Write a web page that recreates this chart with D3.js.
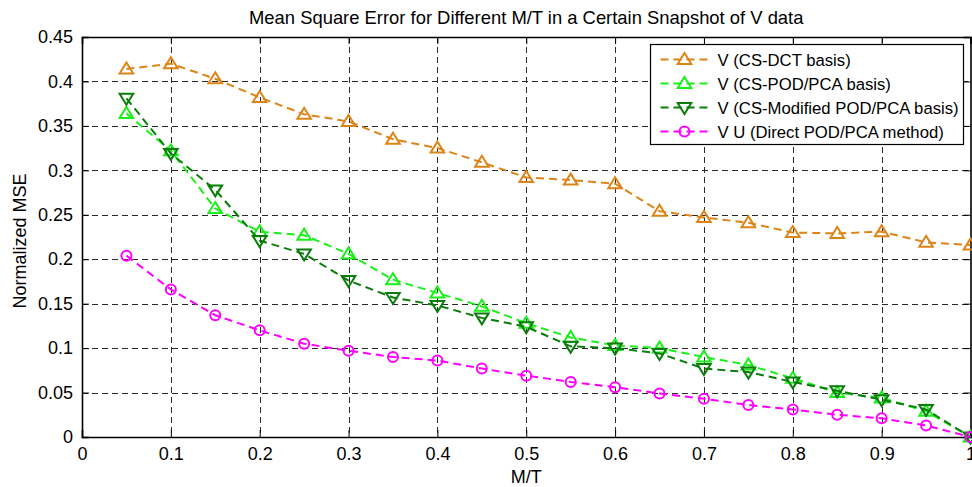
<!DOCTYPE html>
<html>
<head>
<meta charset="utf-8">
<script src="https://cdn.jsdelivr.net/npm/d3@7"></script>
<style>
  html, body { margin: 0; padding: 0; background: #fff; }
  svg { display: block; font-family: "Liberation Sans", Arial, Helvetica, sans-serif; }
</style>
</head>
<body>
<svg id="chart" width="972" height="487"></svg>
<script>
// M/T ratios on the x axis
const mt = [0.05, 0.10, 0.15, 0.20, 0.25, 0.30, 0.35, 0.40, 0.45, 0.50,
            0.55, 0.60, 0.65, 0.70, 0.75, 0.80, 0.85, 0.90, 0.95, 1.00];

// Normalized MSE per method
const csDct = [0.414, 0.420, 0.403, 0.382, 0.363, 0.355, 0.335, 0.325, 0.309, 0.292,
               0.289, 0.285, 0.254, 0.247, 0.241, 0.230, 0.229, 0.231, 0.219, 0.216];
const csPod = [0.364, 0.322, 0.257, 0.231, 0.227, 0.206, 0.177, 0.162, 0.147, 0.128,
               0.112, 0.103, 0.100, 0.090, 0.081, 0.066, 0.050, 0.044, 0.029, 0.000];
const csModPod = [0.381, 0.319, 0.278, 0.221, 0.206, 0.176, 0.157, 0.148, 0.134, 0.124,
                  0.102, 0.100, 0.094, 0.077, 0.073, 0.062, 0.052, 0.042, 0.031, 0.000];
const directPod = [0.204, 0.166, 0.137, 0.120, 0.105, 0.097, 0.090, 0.086, 0.077, 0.069,
                   0.062, 0.056, 0.049, 0.043, 0.036, 0.031, 0.025, 0.021, 0.013, 0.000];

const seriesNames = ["V (CS-DCT basis)", "V (CS-POD/PCA basis)",
                     "V (CS-Modified POD/PCA basis)", "V U (Direct POD/PCA method)"];
const seriesValues = [csDct, csPod, csModPod, directPod];
const seriesColors = ["#dd8417", "#19f019", "#0a7d0a", "#ff00ff"];
const seriesMarkers = ["up", "up", "down", "circle"];

const xTicks = [0, 0.1, 0.2, 0.3, 0.4, 0.5, 0.6, 0.7, 0.8, 0.9, 1];
const yTicks = [0, 0.05, 0.1, 0.15, 0.2, 0.25, 0.3, 0.35, 0.4, 0.45];

const titleText = "Mean Square Error for Different M/T in a Certain Snapshot of V data";
const xLabel = "M/T";
const yLabel = "Normalized MSE";

const svg = d3.select("#chart");
const L = 82, R = 970.5, T = 37, B = 437;

const x = d3.scaleLinear().domain([0, 1]).range([L, R]);
const y = d3.scaleLinear().domain([0, 0.45]).range([B, T]);

// Grid lines
const grid = svg.append("g").attr("stroke", "#2a2a2a").attr("stroke-width", 1)
  .attr("stroke-dasharray", "6,4");
grid.selectAll("line.gx").data(xTicks.filter(d => d > 0 && d < 1)).join("line")
  .attr("x1", d => Math.round(x(d)) + 0.5).attr("x2", d => Math.round(x(d)) + 0.5)
  .attr("y1", T).attr("y2", B);
grid.selectAll("line.gy").data(yTicks.filter(d => d > 0 && d < 0.45)).join("line")
  .attr("x1", L).attr("x2", R)
  .attr("y1", d => Math.round(y(d)) + 0.5).attr("y2", d => Math.round(y(d)) + 0.5);

// Axes with inward ticks
const fmt = d => d === 0 ? "0" : d === 1 ? "1" : String(+d.toFixed(2));
const xAxis = svg.append("g").attr("transform", `translate(0,${B})`)
  .call(d3.axisBottom(x).tickValues(xTicks).tickSize(-7).tickPadding(10).tickFormat(fmt));
const xAxisTop = svg.append("g").attr("transform", `translate(0,${T})`)
  .call(d3.axisTop(x).tickValues(xTicks).tickSize(-7).tickFormat(""));
const yAxis = svg.append("g").attr("transform", `translate(${L},0)`)
  .call(d3.axisLeft(y).tickValues(yTicks).tickSize(-7).tickPadding(9).tickFormat(fmt));
const yAxisRight = svg.append("g").attr("transform", `translate(${R},0)`)
  .call(d3.axisRight(y).tickValues(yTicks).tickSize(-7).tickFormat(""));

[xAxis, xAxisTop, yAxis, yAxisRight].forEach(g => {
  g.select(".domain").attr("stroke", "#000").attr("stroke-width", 1.6);
  g.selectAll(".tick line").attr("stroke", "#000").attr("stroke-width", 1);
  g.selectAll("text").attr("font-size", 18).attr("fill", "#000")
    .attr("font-family", "'Liberation Sans', Arial, sans-serif");
});

// Marker drawing
function drawMarker(sel, kind, color) {
  if (kind === "circle") {
    sel.append("circle").attr("r", 5).attr("fill", "none")
      .attr("stroke", color).attr("stroke-width", 2);
  } else {
    const s = kind === "up" ? 1 : -1;
    const p = d3.path();
    p.moveTo(0, -6.5 * s); p.lineTo(6.8, 4.5 * s); p.lineTo(-6.8, 4.5 * s); p.closePath();
    sel.append("path").attr("d", p.toString()).attr("fill", "none")
      .attr("stroke", color).attr("stroke-width", 2).attr("stroke-linejoin", "miter");
  }
}

// Series
const line = d3.line().x(d => x(d[0])).y(d => y(d[1]));
seriesValues.forEach((vals, i) => {
  const pts = mt.map((m, j) => [m, vals[j]]);
  const g = svg.append("g");
  g.append("path").datum(pts).attr("d", line).attr("fill", "none")
    .attr("stroke", seriesColors[i]).attr("stroke-width", 2)
    .attr("stroke-dasharray", "8,5");
  g.selectAll("g.m").data(pts).join("g")
    .attr("transform", d => `translate(${x(d[0])},${y(d[1])})`)
    .each(function () { drawMarker(d3.select(this), seriesMarkers[i], seriesColors[i]); });
});

// Title and axis labels
svg.append("text").attr("x", (L + R) / 2).attr("y", 24).attr("text-anchor", "middle")
  .attr("font-size", 18.4).text(titleText);
svg.append("text").attr("x", (L + R) / 2).attr("y", 483).attr("text-anchor", "middle")
  .attr("font-size", 18).text(xLabel);
svg.append("text").attr("transform", `translate(26,241) rotate(-90)`)
  .attr("text-anchor", "middle").attr("font-size", 18).text(yLabel);

// Legend
const lg = svg.append("g").attr("transform", "translate(650.5,44.5)");
lg.append("rect").attr("width", 313).attr("height", 100)
  .attr("fill", "#fff").attr("stroke", "#000").attr("stroke-width", 1.2);
seriesNames.forEach((name, i) => {
  const row = lg.append("g").attr("transform", `translate(0,${15 + i * 24})`);
  row.append("line").attr("x1", 10).attr("x2", 58).attr("y1", 0).attr("y2", 0)
    .attr("stroke", seriesColors[i]).attr("stroke-width", 2).attr("stroke-dasharray", "8,5");
  const m = row.append("g").attr("transform", "translate(34,0)");
  drawMarker(m, seriesMarkers[i], seriesColors[i]);
  row.append("text").attr("x", 67).attr("y", 6).attr("font-size", 16.7).text(name);
});
</script>
</body>
</html>
